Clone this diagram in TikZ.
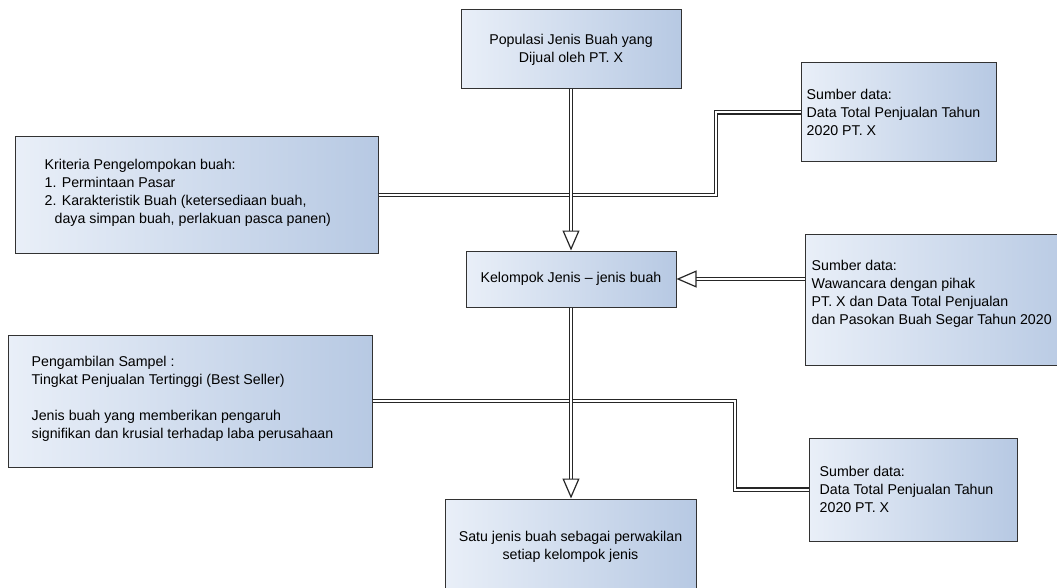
\documentclass[tikz,border=0pt]{standalone}
\usepackage{fontspec}
\setmainfont{Liberation Sans}
\usetikzlibrary{arrows.meta}
\definecolor{boxL}{RGB}{233,239,248}
\definecolor{boxR}{RGB}{183,201,227}
\definecolor{edge}{RGB}{50,50,50}
\begin{document}
\begin{tikzpicture}[x=1pt,y=-1pt,
  box/.style={draw=edge, line width=1pt, left color=boxL, right color=boxR, inner sep=0pt,
    font=\fontsize{14.2}{18}\selectfont},
  txt/.style={inner sep=0pt, align=left, font=\fontsize{14.2}{18}\selectfont},
  dbl/.style={draw=black!85, line width=1.2pt, double=white, double distance=2pt},
  tipline/.style={draw=black!85, line width=1.2pt, dash pattern=on 0pt off 2000pt,
    -{Triangle[length=20pt,width=17pt,line width=1.2pt,fill=white]}}
]
\useasboundingbox (0,0) rectangle (1057,588);
\clip (0,0) rectangle (1057,588);

% boxes
\node[box, align=center, minimum width=220pt, minimum height=79pt] (pop) at (571,49.5)
  {Populasi Jenis Buah yang\\Dijual oleh PT. X};
\node[box, minimum width=195pt, minimum height=99pt] (s1) at (898.5,112.5) {};
\node[txt, anchor=west] (s1t) at ([xshift=6pt]s1.west)
  {Sumber data:\\Data Total Penjualan Tahun\\2020 PT. X};
\node[box, minimum width=363pt, minimum height=116pt] (krit) at (196.5,195) {};
\node[txt, anchor=west] (kritt) at ([xshift=30pt,yshift=2pt]krit.west)
  {Kriteria Pengelompokan buah:\\1. Permintaan Pasar\\2. Karakteristik Buah (ketersediaan buah,\\\hspace*{10pt}daya simpan buah, perlakuan pasca panen)};
\node[box, align=center, minimum width=210pt, minimum height=56pt] (kel) at (571,279)
  {Kelompok Jenis -- jenis buah};
\node[box, minimum width=275pt, minimum height=131pt] (s2) at (942.5,299.5) {};
\node[txt, anchor=west] (s2t) at ([xshift=7pt,yshift=5.5pt]s2.west)
  {Sumber data:\\Wawancara dengan pihak\\PT. X dan Data Total Penjualan\\dan Pasokan Buah Segar Tahun 2020};
\node[box, minimum width=364pt, minimum height=132pt] (peng) at (190,401) {};
\node[txt, anchor=west] (pengt) at ([xshift=24pt,yshift=2pt]peng.west)
  {Pengambilan Sampel :\\Tingkat Penjualan Tertinggi (Best Seller)\\[18pt]Jenis buah yang memberikan pengaruh\\signifikan dan krusial terhadap laba perusahaan};
\node[box, minimum width=208pt, minimum height=103pt] (s3) at (913,489.5) {};
\node[txt, anchor=west] (s3t) at ([xshift=11pt]s3.west)
  {Sumber data:\\Data Total Penjualan Tahun\\2020 PT. X};
\node[box, align=center, minimum width=251pt, minimum height=95pt] (satu) at (570.5,546.5)
  {Satu jenis buah sebagai perwakilan\\setiap kelompok jenis};

% junction columns
\coordinate (j1) at (716,0);
\coordinate (j2) at (735,0);

% side connectors
\draw[dbl] (krit.east) -- (krit.east -| j1) -- (j1 |- s1.west) -- (s1.west);
\draw[dbl] (peng.east) -- (peng.east -| j2) -- (j2 |- s3.west) -- (s3.west);

% arrows
\draw[dbl, shorten >=19pt] (s2.west |- kel.east) -- (kel.east);
\draw[tipline] (s2.west |- kel.east) -- (kel.east);
\draw[dbl, shorten >=19pt] (pop.south) -- (kel.north);
\draw[tipline] (pop.south) -- (kel.north);
\draw[dbl, shorten >=19pt] (kel.south) -- (kel.south |- satu.north);
\draw[tipline] (kel.south) -- (kel.south |- satu.north);
\end{tikzpicture}
\end{document}
